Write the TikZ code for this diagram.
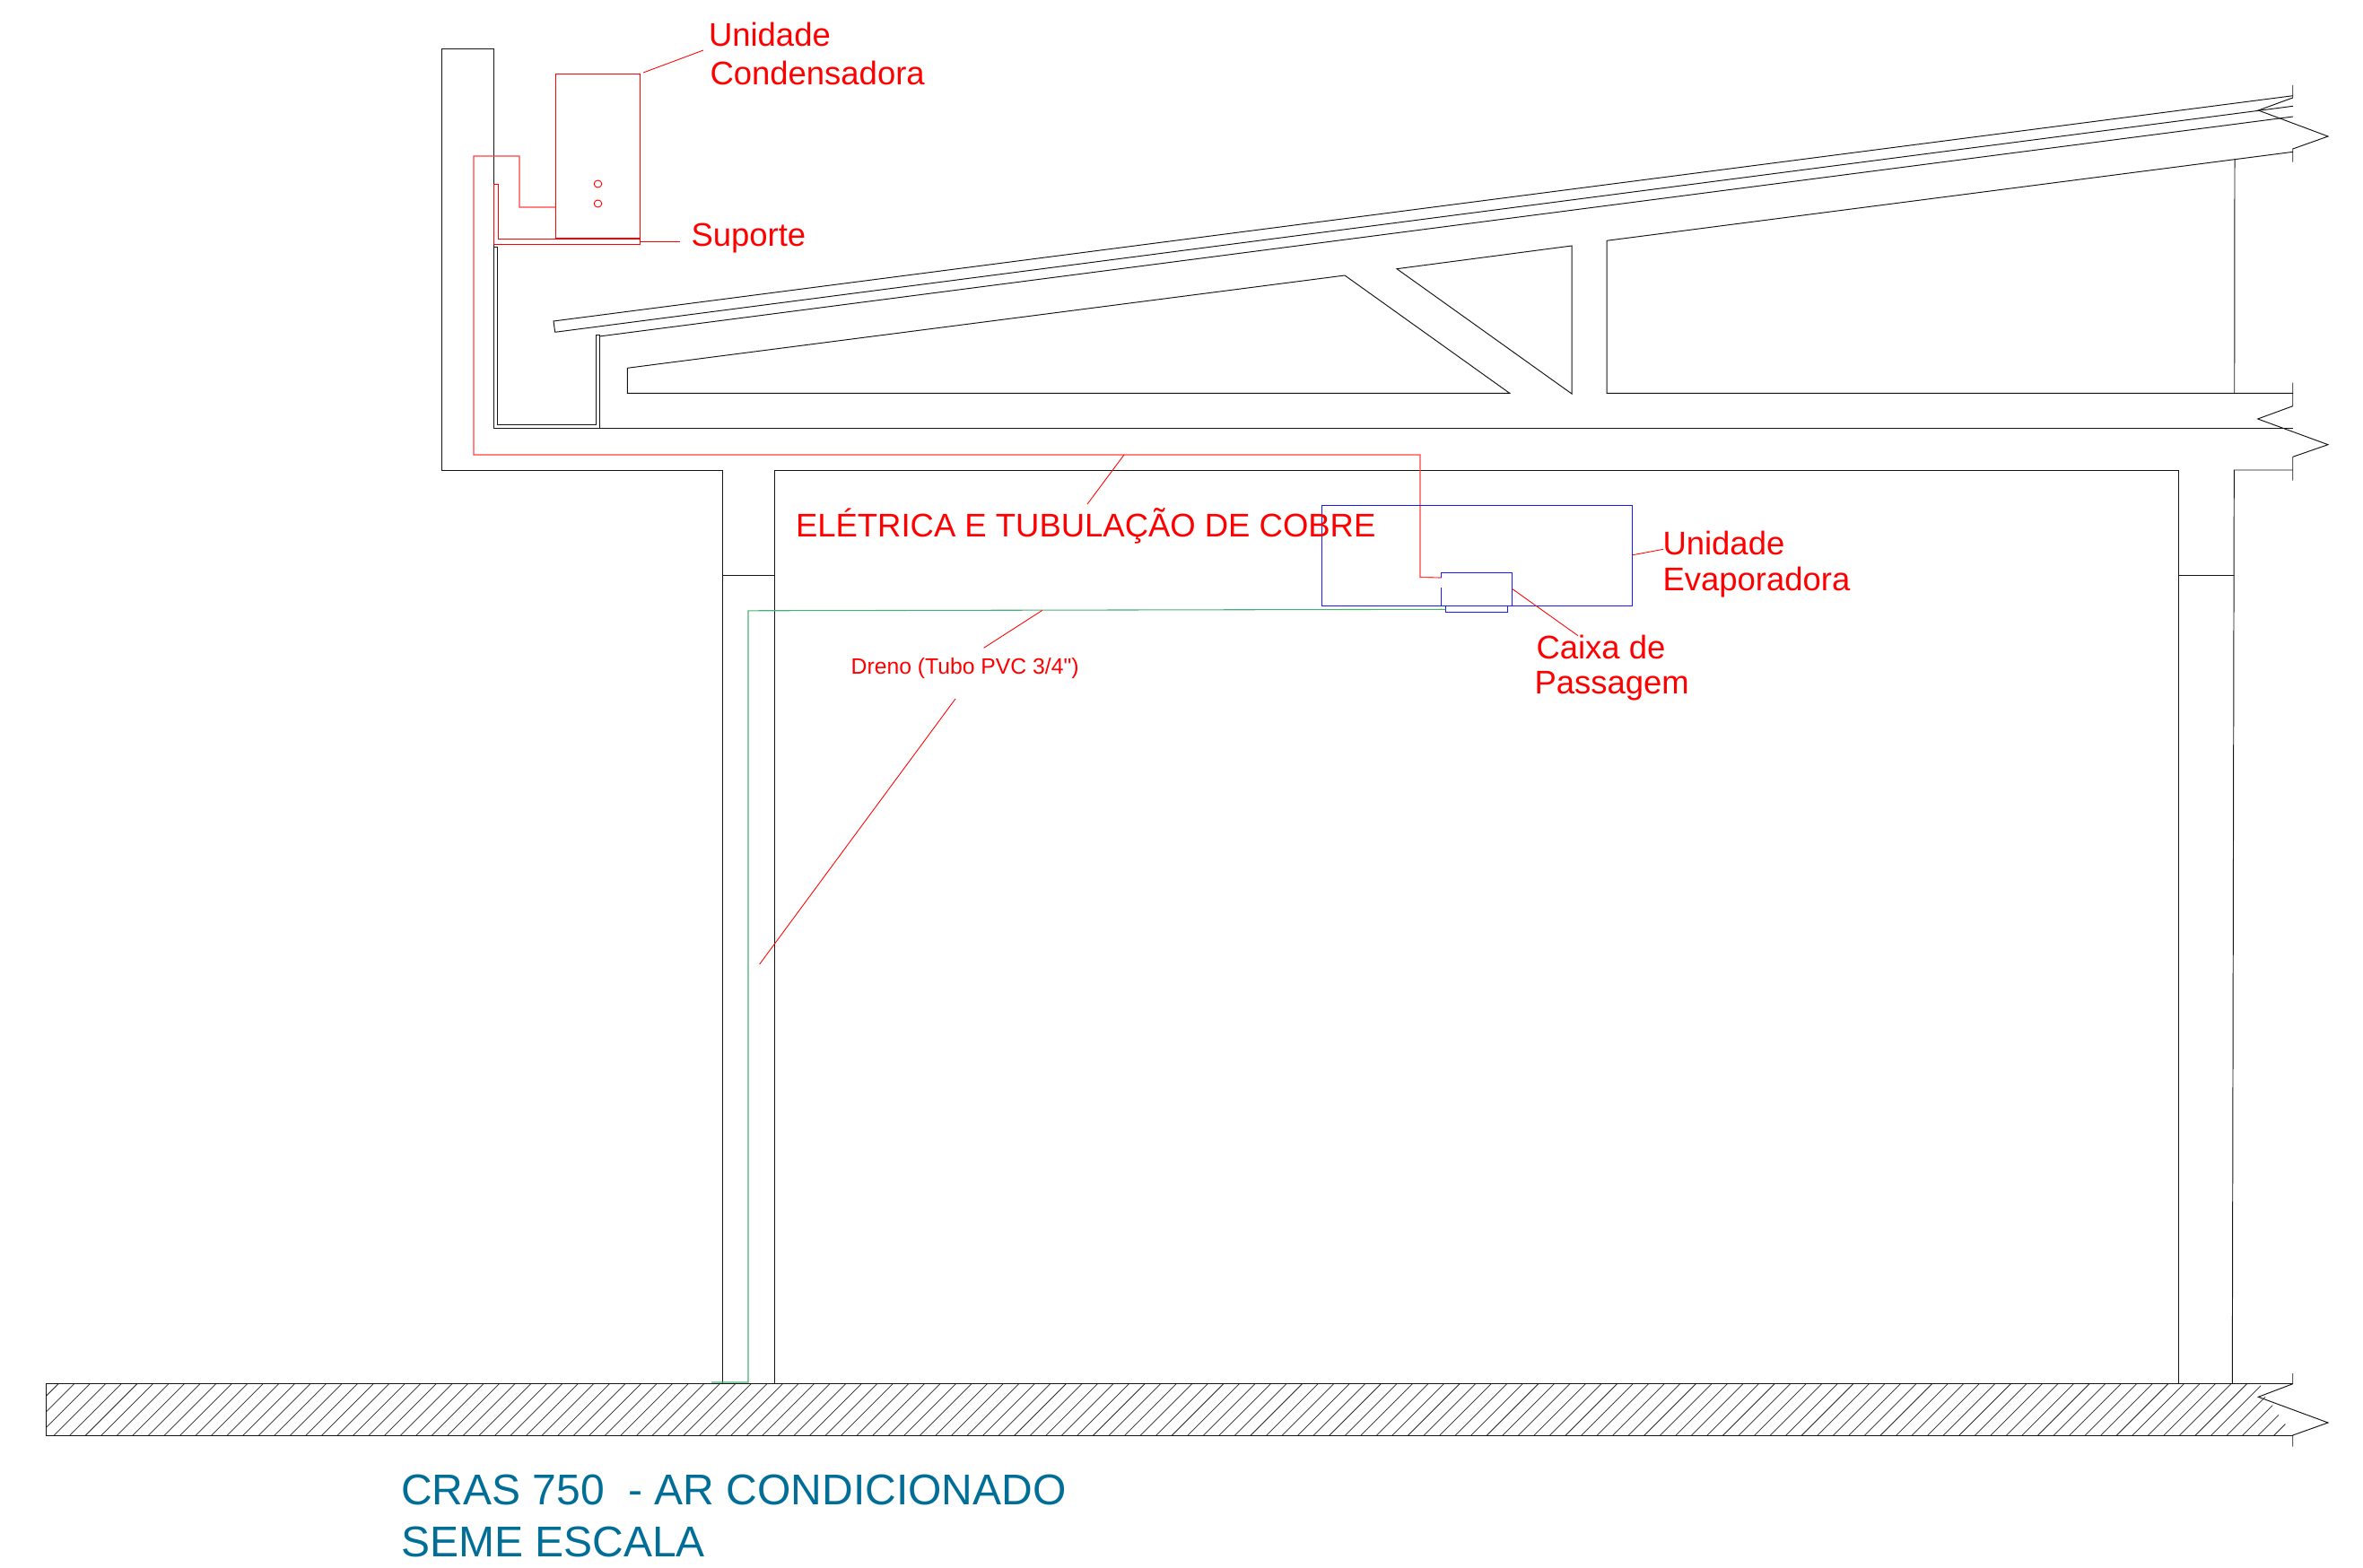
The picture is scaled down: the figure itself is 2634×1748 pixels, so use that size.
\documentclass[tikz,border=0pt]{standalone}
\usepackage{fontspec}
\setmainfont{Liberation Sans}[Ligatures=TeXOff]
\definecolor{titleblue}{RGB}{0,110,150}
\definecolor{drain}{RGB}{70,175,115}
\tikzset{
  struct/.style={draw=black!92,line width=.72pt,line join=miter},
  redline/.style={draw=red,line width=.68pt},
  pipe/.style={draw=red!75!white,line width=.85pt},
  drainline/.style={draw=drain,line width=.8pt},
  blueline/.style={draw=blue!90!white,line width=.68pt},
  leader/.style={draw=red,line width=.65pt},
  hatchline/.style={draw=black!85,line width=.55pt},
  lab/.style={inner sep=0pt,outer sep=0pt,anchor=base west,text=red,font=\fontsize{27.35}{27.35}\selectfont},
  labsmall/.style={lab,font=\fontsize{18.55}{18.55}\selectfont},
  titletext/.style={inner sep=0pt,outer sep=0pt,anchor=base west,text=titleblue,font=\fontsize{36}{36}\selectfont}
}
\begin{document}
\begin{tikzpicture}[x=.75pt,y=-.75pt]
\useasboundingbox (0,0) rectangle (2634,1748);

% --- structure: wall, parapet and slab
\draw[struct] (2555.7,524) -- (2490.3,524) -- (2488.3,1542.5);
\draw[struct] (2428.7,1542.5) -- (2428.7,524) -- (863,524) -- (863,1542.5);
\draw[struct] (805,1542.5) -- (805,524) -- (492,524) -- (492,54) -- (550,54) -- (550,477) -- (2556,477);
\draw[struct] (805,641.3) -- (863,641.3);
\draw[struct] (2428.7,641.3) -- (2490.3,641.3);
% gutter
\draw[struct] (550,275) -- (554,275) -- (554,473.5) -- (664,473.5) -- (664,373) -- (668,373) -- (668,477);
% roof
\draw[struct] (618.7,370.3) -- (617,358) -- (2556,106.7);
\draw[struct] (618.7,370.3) -- (2556,118.3);
\draw[struct] (668,375) -- (2556,130);
% truss openings
\draw[struct] (699.3,438.3) -- (699.3,410.3) -- (1499,307) -- (1682.7,438.3) -- cycle;
\draw[struct] (1557,299.7) -- (1752,274) -- (1752,439) -- cycle;
\draw[struct] (2556,169.3) -- (1791,268.3) -- (1791,438.3) -- (2556,438.3);
\draw[struct] (2491,177) -- (2490.7,438.3);
% break symbols
\draw[struct] (2555.7,95) -- (2555.7,109) -- (2517.3,123) -- (2595,152) -- (2555.7,166) -- (2555.7,180.7);
\draw[struct] (2555.7,426.7) -- (2555.7,452.7) -- (2516.7,467) -- (2595,495.7) -- (2555.7,509.3) -- (2555.7,535.7);
\draw[struct] (2555.7,1531) -- (2555.7,1542.7) -- (2517.3,1557.3) -- (2595,1586) -- (2555.7,1600) -- (2555.7,1612.7);

% --- floor
\begin{scope}
  \clip (51,1542.3) -- (2520,1542.3) -- (2520,1545.7) -- (2525,1557.3) -- (2533.3,1566.7) -- (2540,1577.3) -- (2547.3,1587.3) -- (2552,1600.5) -- (51,1600.5) -- cycle;
  \foreach \k in {-132,...,14}{
    \draw[hatchline] ({2306.3+\k*17.55},1600.5) -- ({2364.5+\k*17.55},1542.3);
  }
\end{scope}
\draw[struct] (2555.7,1542.3) -- (51,1542.3) -- (51,1600.5) -- (2555.7,1600.5);

% --- condenser unit and support
\draw[redline] (619,82) rectangle (713.5,265.7);
\draw[redline] (666.5,205) circle[x radius=4.3,y radius=4];
\draw[redline] (666.5,227) circle[x radius=4.3,y radius=4];
\draw[redline] (550,205) -- (555.5,205) -- (555.5,266) -- (713.5,266) -- (713.5,272) -- (550,272) -- cycle;

% --- copper line
\draw[pipe] (619,231) -- (579,231) -- (579,174) -- (528,174) -- (528,507) -- (1583,507) -- (1583,643.5) -- (1606.5,644);

% --- evaporator
\draw[blueline] (1473,563.7) rectangle (1819.5,675);
\draw[blueline] (1606.5,643.5) -- (1606.5,638) -- (1685.5,638) -- (1685.5,675) -- (1606.5,675) -- (1606.5,655);
\draw[blueline] (1611.4,675) -- (1611.4,682.3) -- (1680.6,682.3) -- (1680.6,675);

% --- drain
\draw[drainline] (1611.4,679.3) -- (834,680.8) -- (834,1541) -- (793,1541);

% --- leader points
\coordinate (condA) at (717,81);
\coordinate (condB) at (784,56);
\coordinate (supA) at (713.5,269);
\coordinate (supB) at (758,269);
\coordinate (eleA) at (1253,507);
\coordinate (eleB) at (1212,562);
\coordinate (evaA) at (1820,618.7);
\coordinate (evaB) at (1854,612.3);
\coordinate (caiA) at (1686,656.7);
\coordinate (caiB) at (1759,708.7);
\coordinate (drnA) at (1161.8,680.4);
\coordinate (drnB) at (1096.6,722.3);
\coordinate (drnC) at (1065,779);
\coordinate (drnD) at (846.6,1075);
\draw[leader] (condA) -- (condB);
\draw[leader] (supA) -- (supB);
\draw[leader] (eleA) -- (eleB);
\draw[leader] (evaA) -- (evaB);
\draw[leader] (caiA) -- (caiB);
\draw[leader] (drnA) -- (drnB);
\draw[leader] (drnC) -- (drnD);

% --- labels
\node[lab] (t1) at (790,52) {Unidade};
\node[lab] (t2) at (791.5,95) {Condensadora};
\node[lab] (t3) at (770.5,274) {Suporte};
\node[lab] (t4) at (887,598.4) {ELÉTRICA E TUBULAÇÃO DE COBRE};
\node[lab] (t5) at (1853.5,618) {Unidade};
\node[lab] (t6) at (1853.5,658.7) {Evaporadora};
\node[lab] (t7) at (1712.5,734) {Caixa de};
\node[lab] (t8) at (1710.5,773.7) {Passagem};
\node[labsmall] (t9) at (948.7,751.7) {Dreno (Tubo PVC 3/4")};
\node[titletext] (t10) at (447,1677.5) {CRAS 750\ \ - AR CONDICIONADO};
\node[titletext] (t11) at (447,1735.5) {SEME ESCALA};
\end{tikzpicture}
\end{document}
